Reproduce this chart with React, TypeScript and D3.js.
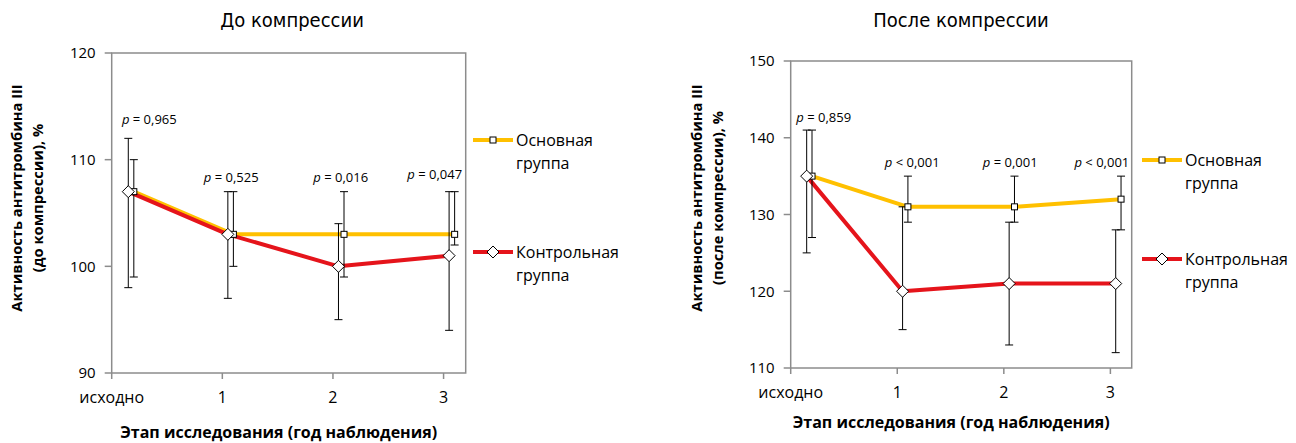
import React from 'react';
import * as d3 from 'd3';

// stages of the study (x categories)
const stages = ['исходно', '1', '2', '3'];
// scatter x of each series (Excel offsets them so the markers don't overlap)
const mainStageX = [0.2, 1.1, 2.1, 3.1];
const controlStageX = [0.15, 1.05, 2.05, 3.05];

const seriesNames = ['Основная группа', 'Контрольная группа'];

// before compression
const mainBefore = [107, 103, 103, 103];
const mainBeforeLow = [99, 100, 99, 102];
const mainBeforeHigh = [110, 107, 107, 107];
const controlBefore = [107, 103, 100, 101];
const controlBeforeLow = [98, 97, 95, 94];
const controlBeforeHigh = [112, 107, 104, 107];
const pBefore = ['= 0,965', '= 0,525', '= 0,016', '= 0,047'];
const pBeforeX = [0.34, 1.08, 2.07, 2.92];
const pBeforeY = [113.35, 107.9, 107.9, 108.2];
const ticksBefore = [90, 100, 110, 120];

// after compression
const mainAfter = [135, 131, 131, 132];
const mainAfterLow = [127, 129, 129, 128];
const mainAfterHigh = [141, 135, 135, 135];
const controlAfter = [135, 120, 121, 121];
const controlAfterLow = [125, 115, 113, 112];
const controlAfterHigh = [141, 131, 129, 128];
const pAfter = ['= 0,859', '< 0,001', '= 0,001', '< 0,001'];
const pAfterX = [0.31, 1.14, 2.06, 2.92];
const pAfterY = [142, 136.15, 136.15, 136.15];
const ticksAfter = [110, 120, 130, 140, 150];

const YELLOW = '#FFC000';
const RED = '#E5141B';
const AXIS = '#8c8c8c';
const FONT = "'Open Sans', sans-serif";
const NARROW = "'Liberation Sans Narrow', 'DejaVu Sans Condensed', sans-serif";

type PanelProps = {
  title: string;
  yTitle2: string;
  left: number; right: number; top: number; bottom: number;
  yDomain: [number, number];
  yTicks: number[];
  main: number[]; mainLow: number[]; mainHigh: number[];
  control: number[]; controlLow: number[]; controlHigh: number[];
  pLabels: string[]; pX: number[]; pY: number[];
  titleX: number;
  yTitleX: number;
  xTitleY: number;
  legendX: number; legendY: [number, number];
};

function Panel(p: PanelProps) {
  const x = d3.scaleLinear().domain([0, 3.2]).range([p.left, p.right]);
  const y = d3.scaleLinear().domain(p.yDomain).range([p.bottom, p.top]);
  const line = d3.line<[number, number]>().x(d => x(d[0])).y(d => y(d[1]));
  const mainPts = p.main.map((v, i) => [mainStageX[i], v] as [number, number]);
  const ctrlPts = p.control.map((v, i) => [controlStageX[i], v] as [number, number]);
  const midY = 198;

  const errBar = (xs: number[], lo: number[], hi: number[], key: string) =>
    xs.map((xv, i) => {
      const cx = x(xv);
      return (
        <g key={key + i} stroke="#000" strokeWidth={1}>
          <line x1={cx} x2={cx} y1={y(lo[i])} y2={y(hi[i])} />
          <line x1={cx - 4} x2={cx + 4} y1={y(lo[i])} y2={y(lo[i])} />
          <line x1={cx - 4} x2={cx + 4} y1={y(hi[i])} y2={y(hi[i])} />
        </g>
      );
    });

  const diamond = (cx: number, cy: number, k: string) => (
    <path key={k} d={`M${cx},${cy - 6}L${cx + 6},${cy}L${cx},${cy + 6}L${cx - 6},${cy}Z`}
      fill="#fff" stroke="#000" strokeWidth={1} />
  );
  const square = (cx: number, cy: number, k: string) => (
    <rect key={k} x={cx - 3} y={cy - 3} width={6} height={6} fill="#fff" stroke="#000" strokeWidth={1} />
  );

  return (
    <g>
      <text x={p.titleX} y={27} textAnchor="middle" fontFamily={NARROW} fontSize={20} fill="#000">{p.title}</text>
      {/* plot frame */}
      <rect x={p.left} y={p.top} width={p.right - p.left} height={p.bottom - p.top} fill="none" stroke={AXIS} strokeWidth={1.5} />
      {p.yTicks.map(t => (
        <g key={'yt' + t}>
          <line x1={p.left - 7} x2={p.left} y1={y(t)} y2={y(t)} stroke={AXIS} strokeWidth={1.5} />
          <text x={p.left - 16} y={y(t)} dy="0.35em" textAnchor="end" fontFamily={FONT} fontSize={15} fill="#000">{t}</text>
        </g>
      ))}
      {stages.map((s, i) => (
        <g key={'xt' + i}>
          <line x1={x(i)} x2={x(i)} y1={p.bottom} y2={p.bottom + 6} stroke={AXIS} strokeWidth={1.5} />
          <text x={x(i)} y={p.bottom + 30} textAnchor="middle" fontFamily={FONT} fontSize={16} fill="#000">{s}</text>
        </g>
      ))}
      <text transform={`translate(${p.yTitleX},${midY}) rotate(-90)`} textAnchor="middle" fontFamily={FONT} fontWeight="bold" fontSize={14.7} fill="#000">
        <tspan x={0} dy={0}>Активность антитромбина III</tspan>
        <tspan x={0} dy={21}>{p.yTitle2}</tspan>
      </text>
      <text x={(p.left + p.right) / 2 - 10} y={p.xTitleY} textAnchor="middle" fontFamily={FONT} fontWeight="bold" fontSize={16} fill="#000">Этап исследования (год наблюдения)</text>

      <path d={line(mainPts) || ''} fill="none" stroke={YELLOW} strokeWidth={4} strokeLinejoin="round" />
      <path d={line(ctrlPts) || ''} fill="none" stroke={RED} strokeWidth={4} strokeLinejoin="round" />
      {errBar(mainStageX, p.mainLow, p.mainHigh, 'em')}
      {errBar(controlStageX, p.controlLow, p.controlHigh, 'ec')}
      {mainPts.map((d, i) => square(x(d[0]), y(d[1]), 'sq' + i))}
      {ctrlPts.map((d, i) => diamond(x(d[0]), y(d[1]), 'dm' + i))}

      {p.pLabels.map((l, i) => (
        <text key={'p' + i} x={x(p.pX[i])} y={y(p.pY[i])} textAnchor="middle" fontFamily={FONT} fontSize={13} fill="#000">
          <tspan fontStyle="italic">p</tspan> {l}
        </text>
      ))}

      {/* legend */}
      {[0, 1].map(k => {
        const ly = p.legendY[k];
        const [l1, l2] = seriesNames[k].split(' ');
        return (
          <g key={'lg' + k}>
            <line x1={p.legendX} x2={p.legendX + 40} y1={ly} y2={ly} stroke={k === 0 ? YELLOW : RED} strokeWidth={4} />
            {k === 0 ? square(p.legendX + 20, ly, 'ls') : diamond(p.legendX + 20, ly, 'ld')}
            <text x={p.legendX + 43} y={ly} dy="0.35em" fontFamily={FONT} fontSize={16} fill="#000">{l1}</text>
            <text x={p.legendX + 43} y={ly + 23} dy="0.35em" fontFamily={FONT} fontSize={16} fill="#000">{l2}</text>
          </g>
        );
      })}
    </g>
  );
}

export default function App() {
  return (
    <svg width={1296} height={443} style={{ position: 'absolute', left: 0, top: 0, background: '#fff' }}>
      <Panel title="До компрессии" yTitle2="(до компрессии), %"
        left={111.7} right={465.7} top={53} bottom={373}
        yDomain={[90, 120]} yTicks={ticksBefore}
        main={mainBefore} mainLow={mainBeforeLow} mainHigh={mainBeforeHigh}
        control={controlBefore} controlLow={controlBeforeLow} controlHigh={controlBeforeHigh}
        pLabels={pBefore} pX={pBeforeX} pY={pBeforeY}
        titleX={292} yTitleX={22} xTitleY={438}
        legendX={473} legendY={[140, 252]} />
      <Panel title="После компрессии" yTitle2="(после компрессии), %"
        left={790.7} right={1131.7} top={61} bottom={368}
        yDomain={[110, 150]} yTicks={ticksAfter}
        main={mainAfter} mainLow={mainAfterLow} mainHigh={mainAfterHigh}
        control={controlAfter} controlLow={controlAfterLow} controlHigh={controlAfterHigh}
        pLabels={pAfter} pX={pAfterX} pY={pAfterY}
        titleX={961} yTitleX={702} xTitleY={428}
        legendX={1142} legendY={[160, 259]} />
    </svg>
  );
}
